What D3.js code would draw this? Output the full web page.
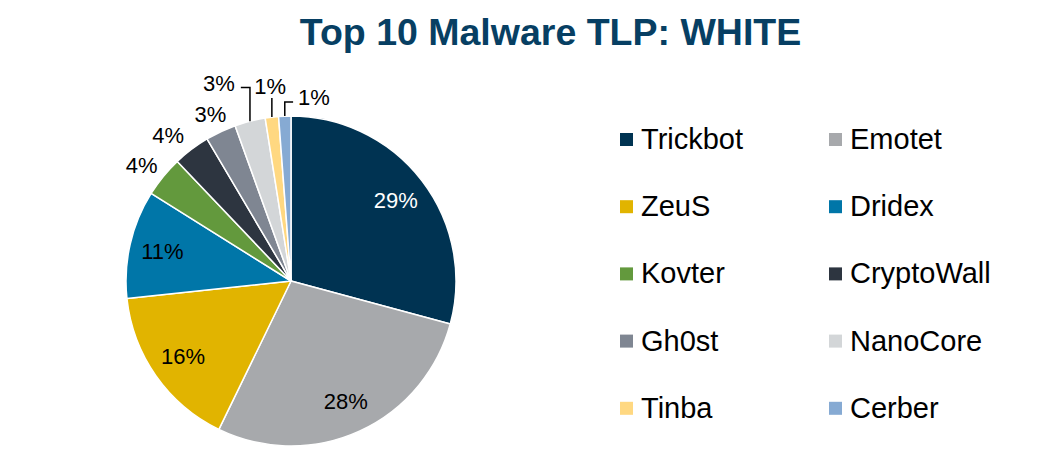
<!DOCTYPE html>
<html>
<head>
<meta charset="utf-8">
<script src="https://cdn.jsdelivr.net/npm/d3@7"></script>
<style>
  html, body { margin: 0; padding: 0; background: #ffffff; }
  svg { display: block; font-family: Arial, "Liberation Sans", Helvetica, sans-serif; }
</style>
</head>
<body>
<svg id="chart" width="1038" height="451"></svg>
<script>
// ---- Data (percent shares; labels show rounded values) ----
const categories = ["Trickbot", "Emotet", "ZeuS", "Dridex", "Kovter", "CryptoWall", "Gh0st", "NanoCore", "Tinba", "Cerber"];
const values = [29.2, 28.0, 16.1, 10.6, 4.0, 3.6, 3.0, 3.0, 1.3, 1.2];
const colors = ["#003352", "#a7a9ac", "#e1b400", "#0076a8", "#63993d", "#2d3540", "#7f8692", "#d3d6d8", "#ffd881", "#86aad3"];
const title = "Top 10 Malware TLP: WHITE";

// ---- Layout / style ----
const cx = 291, cy = 281, R = 165;
// label placement per slice: mode inner / outer / leader, polar radius and angle shift (deg)
const labelPlacement = [
  { mode: "inner", r: 132, shift: 0 },
  { mode: "inner", r: 132, shift: 0 },
  { mode: "inner", r: 132, shift: 0 },
  { mode: "inner", r: 132, shift: 0 },
  { mode: "outer", r: 189, shift: -1.5 },
  { mode: "outer", r: 190.5, shift: -3.1 },
  { mode: "outer", r: 185, shift: -0.6 },
  { mode: "leader", r: 210.7, shift: -5.6 },
  { mode: "leader", r: 196, shift: 0.55 },
  { mode: "leader", r: 185, shift: 9.3 }
];

const svg = d3.select("#chart");

svg.append("text")
  .attr("x", 550.5).attr("y", 45)
  .attr("text-anchor", "middle")
  .attr("font-size", 37.5).attr("font-weight", "bold")
  .attr("fill", "#073f63")
  .text(title);

const total = d3.sum(values);
const pie = d3.pie().sort(null).value(d => d.value);
const data = pie(categories.map((c, i) => ({ name: c, value: values[i], color: colors[i], idx: i })));
const arc = d3.arc().innerRadius(0).outerRadius(R);

const g = svg.append("g").attr("transform", `translate(${cx},${cy})`);

g.selectAll("path.slice").data(data).join("path")
  .attr("class", "slice")
  .attr("d", arc)
  .attr("fill", d => d.data.color)
  .attr("stroke", "#ffffff")
  .attr("stroke-width", 1.5)
  .attr("stroke-linejoin", "round");

const polar = (ang, r) => [Math.sin(ang) * r, -Math.cos(ang) * r];
const fs = 22;

data.forEach(d => {
  const p = labelPlacement[d.data.idx];
  const mid = (d.startAngle + d.endAngle) / 2;
  const ang = mid + p.shift * Math.PI / 180;
  const [lx, ly] = polar(ang, p.r);
  const txt = Math.round(d.data.value / total * 100) + "%";
  const t = g.append("text")
    .attr("x", lx).attr("y", ly)
    .attr("text-anchor", "middle")
    .attr("dominant-baseline", "central")
    .attr("font-size", fs)
    .attr("fill", d.data.idx === 0 ? "#ffffff" : "#000000")
    .text(txt);
  if (p.mode === "leader") {
    const [ax, ay] = polar(mid, R);
    const bb = t.node().getBBox();
    const lineY = ly + 4.5;
    let pts;
    if (ax < bb.x - 2) {
      pts = [[ax, ay], [ax, lineY], [bb.x - 5, lineY]];
    } else if (ax > bb.x + bb.width + 2) {
      pts = [[ax, ay], [ax, lineY], [bb.x + bb.width + 6, lineY]];
    } else {
      pts = [[ax, ay], [ax, ly + 12]];
    }
    g.append("path")
      .attr("d", d3.line()(pts))
      .attr("fill", "none")
      .attr("stroke", "#000000")
      .attr("stroke-width", 1.5);
  }
});

// ---- Legend ----
const colX = [620, 829];
const rowY = d3.range(5).map(i => 139.5 + i * 67.2);
const leg = svg.append("g");
categories.forEach((c, i) => {
  const x = colX[i % 2], y = rowY[Math.floor(i / 2)];
  leg.append("rect")
    .attr("x", x).attr("y", y - 6.5)
    .attr("width", 13).attr("height", 13)
    .attr("fill", colors[i]);
  leg.append("text")
    .attr("x", x + 21).attr("y", y + 9.5)
    .attr("font-size", 29)
    .attr("fill", "#000000")
    .text(c);
});
</script>
</body>
</html>
